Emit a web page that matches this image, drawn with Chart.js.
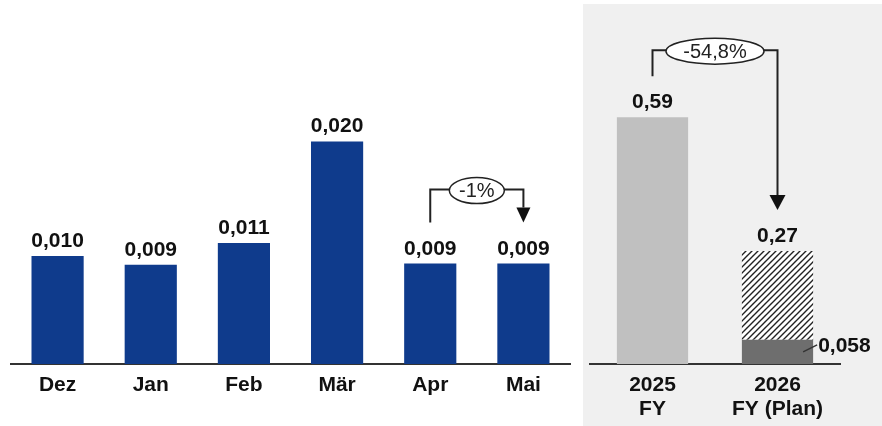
<!DOCTYPE html>
<html lang="de">
<head>
<meta charset="utf-8">
<script src="https://cdn.jsdelivr.net/npm/chart.js@4"></script>
<style>
  html, body { margin: 0; padding: 0; background: #fff; }
  body { width: 882px; height: 426px; position: relative; overflow: hidden; }
  #monthly { position: absolute; left: 0; top: 0; }
  #panel { position: absolute; left: 583px; top: 4px; width: 299px; height: 422px; background: #f0f0f0; }
  #yearly { position: absolute; left: 583px; top: 0; }
</style>
</head>
<body>
<canvas id="monthly" width="580" height="426"></canvas>
<div id="panel"></div>
<canvas id="yearly" width="299" height="426"></canvas>
<script>
// Monatswerte
const months = ['Dez', 'Jan', 'Feb', 'Mär', 'Apr', 'Mai'];
const monthValues = [0.0100, 0.0092, 0.0112, 0.0206, 0.0093, 0.0093];
const monthLabels = ['0,010', '0,009', '0,011', '0,020', '0,009', '0,009'];
const monthChange = '-1%';

// Jahreswerte
const years = [['2025', 'FY'], ['2026', 'FY (Plan)']];
const yearTotals = [0.59, 0.27];
const yearBase = [0.59, 0.058];
const yearLabels = ['0,59', '0,27'];
const baseLabel = '0,058';
const yearChange = '-54,8%';

const FONT = '"Liberation Sans", Arial, Helvetica, sans-serif';
Chart.defaults.font.family = FONT;

// oberste Kante eines (gestapelten) Balkens
function barTop(chart, i) {
  let top = Infinity;
  chart.data.datasets.forEach((ds, d) => {
    if (ds.data[i] > 0) top = Math.min(top, chart.getDatasetMeta(d).data[i].y);
  });
  return top;
}

const valueLabels = {
  id: 'valueLabels',
  afterDatasetsDraw(chart, args, opts) {
    const ctx = chart.ctx;
    const meta = chart.getDatasetMeta(0);
    ctx.save();
    ctx.font = 'bold 21px ' + FONT;
    ctx.fillStyle = '#111';
    ctx.textAlign = 'center';
    ctx.textBaseline = 'alphabetic';
    opts.texts.forEach((t, i) => {
      ctx.fillText(t, meta.data[i].x, barTop(chart, i) - opts.gap);
    });
    // Beschriftung des Sockels (0,058)
    if (opts.baseText) {
      const el = meta.data[opts.baseIndex];
      const right = el.x + el.width / 2;
      const cy = (el.y + el.base) / 2;
      ctx.strokeStyle = '#333';
      ctx.lineWidth = 1.5;
      ctx.beginPath();
      ctx.moveTo(right - 10, cy);
      ctx.lineTo(right + 4, cy - 7);
      ctx.stroke();
      ctx.textAlign = 'left';
      ctx.textBaseline = 'middle';
      ctx.fillText(opts.baseText, right + 5, cy - 6);
    }
    ctx.restore();
  }
};

const changeArrow = {
  id: 'changeArrow',
  afterDatasetsDraw(chart, args, o) {
    const ctx = chart.ctx;
    const meta = chart.getDatasetMeta(0);
    const x1 = meta.data[o.from].x;
    const x2 = meta.data[o.to].x;
    const y1 = barTop(chart, o.from) - o.gap;
    const yTip = barTop(chart, o.to) - o.gap;
    const yb = barTop(chart, o.from) - o.rise;
    const cx = (x1 + x2) / 2;
    ctx.save();
    ctx.strokeStyle = '#222';
    ctx.fillStyle = '#111';
    ctx.lineWidth = 2;
    ctx.beginPath();
    ctx.moveTo(x1, y1);
    ctx.lineTo(x1, yb);
    ctx.lineTo(x2, yb);
    ctx.lineTo(x2, yTip - o.head);
    ctx.stroke();
    ctx.beginPath();
    ctx.moveTo(x2 - o.headW / 2, yTip - o.head);
    ctx.lineTo(x2 + o.headW / 2, yTip - o.head);
    ctx.lineTo(x2, yTip);
    ctx.closePath();
    ctx.fill();
    ctx.beginPath();
    ctx.ellipse(cx, yb + 1, o.w / 2, o.h / 2, 0, 0, Math.PI * 2);
    ctx.fillStyle = '#fff';
    ctx.fill();
    ctx.lineWidth = 1.5;
    ctx.stroke();
    ctx.fillStyle = '#222';
    ctx.font = '20px ' + FONT;
    ctx.textAlign = 'center';
    ctx.textBaseline = 'middle';
    ctx.fillText(o.text, cx, yb + 2);
    ctx.restore();
  }
};

function hatch() {
  const c = document.createElement('canvas');
  c.width = 6; c.height = 6;
  const g = c.getContext('2d');
  g.fillStyle = '#fff';
  g.fillRect(0, 0, 6, 6);
  g.strokeStyle = '#222';
  g.lineWidth = 1.4;
  g.beginPath();
  g.moveTo(-1, 7); g.lineTo(7, -1);
  g.moveTo(-1, 1); g.lineTo(1, -1);
  g.moveTo(5, 7); g.lineTo(7, 5);
  g.stroke();
  return g.createPattern(c, 'repeat');
}

const xAxis = () => ({
  grid: { display: false, drawTicks: false },
  border: { display: true, color: '#333', width: 2 },
  ticks: { color: '#111', font: { size: 21, weight: 'bold', lineHeight: 1.15 }, padding: 9, maxRotation: 0, autoSkip: false },
  afterFit: (s) => { s.height = 62; }
});

new Chart(document.getElementById('monthly'), {
  type: 'bar',
  data: {
    labels: months,
    datasets: [{ data: monthValues, backgroundColor: '#0f3b8c', barPercentage: 0.56, categoryPercentage: 1 }]
  },
  options: {
    responsive: false,
    animation: false,
    layout: { padding: { left: 11, right: 10, top: 0, bottom: 0 } },
    plugins: {
      legend: { display: false },
      tooltip: { enabled: false },
      valueLabels: { texts: monthLabels, gap: 9 },
      changeArrow: { from: 4, to: 5, text: monthChange, gap: 41, rise: 74, head: 15, headW: 14, w: 55, h: 26 }
    },
    scales: {
      x: xAxis(),
      y: { display: false, min: 0, max: 0.0337 }
    }
  },
  plugins: [valueLabels, changeArrow]
});

new Chart(document.getElementById('yearly'), {
  type: 'bar',
  data: {
    labels: years,
    datasets: [
      { data: yearBase, backgroundColor: ['#c0c0c0', '#6e6e6e'], barPercentage: 0.57, categoryPercentage: 1 },
      { data: yearTotals.map((t, i) => i === 0 ? 0 : t - yearBase[i]), backgroundColor: hatch(), barPercentage: 0.57, categoryPercentage: 1 }
    ]
  },
  options: {
    responsive: false,
    animation: false,
    layout: { padding: { left: 7, right: 42, top: 0, bottom: 0 } },
    plugins: {
      legend: { display: false },
      tooltip: { enabled: false },
      valueLabels: { texts: yearLabels, gap: 9, baseText: baseLabel, baseIndex: 1 },
      changeArrow: { from: 0, to: 1, text: yearChange, gap: 41, rise: 67, head: 15, headW: 16, w: 98, h: 26 }
    },
    scales: {
      x: Object.assign(xAxis(), { stacked: true }),
      y: { display: false, stacked: true, min: 0, max: 0.87 }
    }
  },
  plugins: [valueLabels, changeArrow]
});
</script>
</body>
</html>
